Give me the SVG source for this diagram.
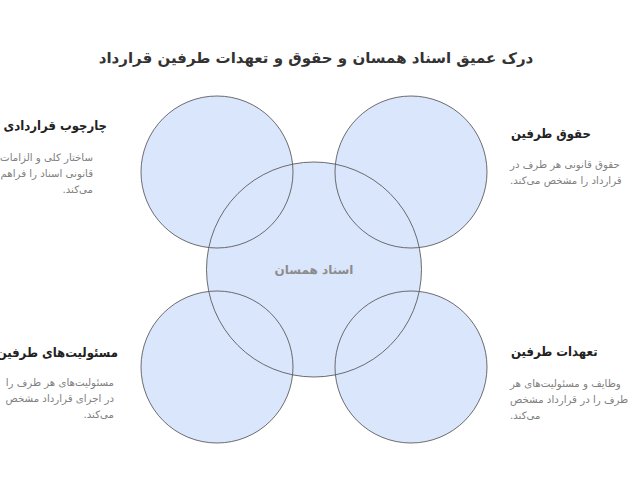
<svg xmlns="http://www.w3.org/2000/svg" width="637" height="478" viewBox="0 0 637 478">
<style>
text{font-family:"DejaVu Sans","Liberation Sans",sans-serif;direction:rtl;unicode-bidi:embed}
.c{fill:#dae6fc;stroke:none}
.o{fill:none;stroke:#555;stroke-width:1;stroke-opacity:0.85}
.title{font-size:15px;font-weight:bold;fill:#333;text-anchor:middle}
.h{font-family:"DejaVu Sans Condensed","DejaVu Sans",sans-serif;font-size:13px;font-weight:bold;fill:#222}
.b{font-size:10.2px;fill:#808080}
.l{text-anchor:start}
.r{text-anchor:end}
.lab{font-size:12px;font-weight:bold;fill:#8c8c8c;text-anchor:middle}
</style>
<rect width="637" height="478" fill="#ffffff"/>
<text class="title" x="316" y="63">درک عمیق اسناد همسان و حقوق و تعهدات طرفین قرارداد</text>
<g id="connectors"></g>
<g id="node-center">
<circle class="c" cx="314" cy="269.5" r="107.5"/>
</g>
<g id="node-tl">
<circle class="c" cx="217" cy="172" r="76"/>
</g>
<g id="node-tr">
<circle class="c" cx="411" cy="172" r="76"/>
</g>
<g id="node-bl">
<circle class="c" cx="217" cy="367" r="76"/>
</g>
<g id="node-br">
<circle class="c" cx="411" cy="367" r="76"/>
</g>
<g id="node-outlines">
<circle class="o" cx="314" cy="269.5" r="107.5"/>
<circle class="o" cx="217" cy="172" r="76"/>
<circle class="o" cx="411" cy="172" r="76"/>
<circle class="o" cx="217" cy="367" r="76"/>
<circle class="o" cx="411" cy="367" r="76"/>
</g>
<text class="lab" x="314" y="274">اسناد همسان</text>
<g id="label-tl">
<text class="h l" x="107" y="130">چارچوب قراردادی</text>
<text class="b l" x="93" y="161">ساختار کلی و الزامات</text>
<text class="b l" x="93" y="177">قانونی اسناد را فراهم</text>
<text class="b l" x="93" y="193">می&#x200C;کند.</text>
</g>
<g id="label-tr">
<text class="h r" x="511" y="138">حقوق طرفین</text>
<text class="b r" x="510" y="168">حقوق قانونی هر طرف در</text>
<text class="b r" x="510" y="184">قرارداد را مشخص می&#x200C;کند.</text>
</g>
<g id="label-bl">
<text class="h l" x="118" y="357">مسئولیت&#x200C;های طرفین</text>
<text class="b l" x="114" y="386">مسئولیت&#x200C;های هر طرف را</text>
<text class="b l" x="114" y="402">در اجرای قرارداد مشخص</text>
<text class="b l" x="114" y="418">می&#x200C;کند.</text>
</g>
<g id="label-br">
<text class="h r" x="511" y="356">تعهدات طرفین</text>
<text class="b r" x="510" y="387">وظایف و مسئولیت&#x200C;های هر</text>
<text class="b r" x="510" y="403">طرف را در قرارداد مشخص</text>
<text class="b r" x="510" y="419">می&#x200C;کند.</text>
</g>
</svg>
